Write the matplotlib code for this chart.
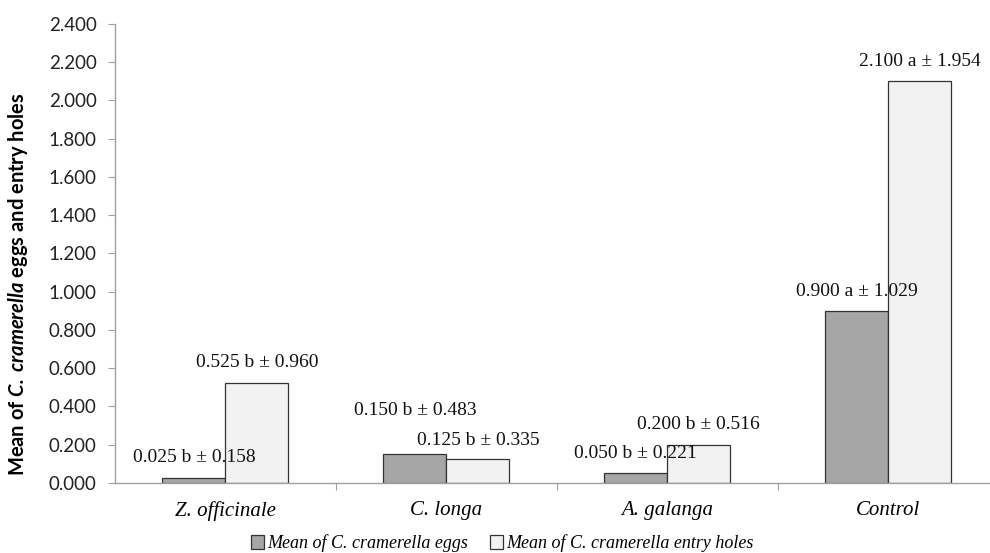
import matplotlib
matplotlib.use("Agg")
import matplotlib.pyplot as plt
import numpy as np

categories = ["Z. officinale", "C. longa", "A. galanga", "Control"]
eggs = [0.025, 0.150, 0.050, 0.900]
holes = [0.525, 0.125, 0.200, 2.100]
eggs_labels = ["0.025 b ± 0.158", "0.150 b ± 0.483", "0.050 b ± 0.221", "0.900 a ± 1.029"]
holes_labels = ["0.525 b ± 0.960", "0.125 b ± 0.335", "0.200 b ± 0.516", "2.100 a ± 1.954"]
series_names = ["Mean of C. cramerella eggs", "Mean of C. cramerella entry holes"]
yticks = [0.0, 0.2, 0.4, 0.6, 0.8, 1.0, 1.2, 1.4, 1.6, 1.8, 2.0, 2.2, 2.4]

plt.rcParams['mathtext.fontset'] = 'custom'
plt.rcParams['mathtext.bfit'] = 'Lato:bold:italic'
plt.rcParams['mathtext.rm'] = 'Lato:bold'

fig = plt.figure(figsize=(9.9, 5.53), dpi=100)
ax = fig.add_axes([0.116, 0.1266, 0.884, 0.83])

x = np.arange(len(categories))
w = 0.285
b1 = ax.bar(x - w/2, eggs, w, color="#A6A6A6", edgecolor="#333333", linewidth=0.9, label=series_names[0])
b2 = ax.bar(x + w/2, holes, w, color="#F2F2F2", edgecolor="#333333", linewidth=0.9, label=series_names[1])

serif = "Liberation Serif"
egg_offsets = [11.5, 28, 11, 11]
hole_offsets = [11, 10, 11, 11]
for i in range(len(categories)):
    ax.annotate(eggs_labels[i], (x[i] - w/2, eggs[i]), xytext=(0, egg_offsets[i]),
                textcoords="offset points", ha="center", va="baseline",
                fontsize=14, family=serif, color="#111111")
    ax.annotate(holes_labels[i], (x[i] + w/2, holes[i]), xytext=(0, hole_offsets[i]),
                textcoords="offset points", ha="center", va="baseline",
                fontsize=14, family=serif, color="#111111")

ax.set_xlim(-0.5, 3.46)
ax.set_ylim(0, 2.4)
ax.set_yticks(yticks)
ax.set_yticklabels([f"{v:.3f}" for v in yticks], family="Lato", fontsize=13.5, color="#222222")
ax.set_xticks([0.5, 1.5, 2.5])
ax.set_xticklabels([])
ax.set_xticks(x, minor=True)
ax.set_xticklabels(categories, minor=True, family=serif, style="italic", fontsize=15)
ax.tick_params(axis="x", which="minor", length=0, pad=13)
ax.tick_params(axis="x", which="major", length=5, color="#A0A0A0")
ax.tick_params(axis="y", length=5, color="#A0A0A0", pad=8)

for s in ["top", "right"]:
    ax.spines[s].set_visible(False)
for s in ["left", "bottom"]:
    ax.spines[s].set_color("#A0A0A0")
    ax.spines[s].set_linewidth(1.0)

ax.set_ylabel(r"Mean of $\mathbfit{C.\,cramerella}$ eggs and entry holes",
              family="Lato", fontweight="bold", fontsize=14.5)
ax.yaxis.set_label_coords(-0.097, 0.434)

leg = fig.legend(handles=[b1, b2], labels=series_names, loc="lower center",
                 bbox_to_anchor=(0.507, -0.028), ncol=2, frameon=False,
                 prop={"family": serif, "style": "italic", "size": 13},
                 handlelength=0.75, handleheight=0.75, handletextpad=0.15, columnspacing=1.2)

fig.savefig("out.png", dpi=100)
